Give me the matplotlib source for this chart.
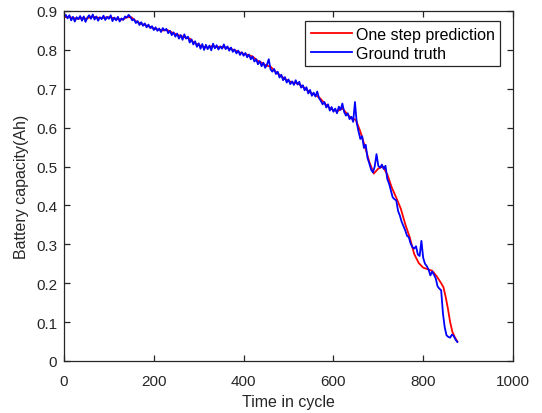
import matplotlib
matplotlib.use("Agg")
import matplotlib.pyplot as plt

plt.rcParams['font.family'] = ['Liberation Sans', 'DejaVu Sans']

# Ground truth: cycles 0..876 step 4
truth_cycles = list(range(0, 880, 4))
truth_values = [
    0.884, 0.890, 0.881, 0.889, 0.876, 0.885, 0.873, 0.884, 0.879, 0.887,
    0.875, 0.886, 0.872, 0.883, 0.889, 0.880, 0.891, 0.878, 0.886, 0.875,
    0.884, 0.879, 0.888, 0.877, 0.885, 0.880, 0.889, 0.874, 0.883, 0.876,
    0.885, 0.873, 0.881, 0.877, 0.886, 0.883, 0.890, 0.884, 0.876, 0.879,
    0.869, 0.874, 0.864, 0.871, 0.862, 0.868, 0.858, 0.865, 0.856, 0.861,
    0.851, 0.858, 0.849, 0.855, 0.846, 0.856, 0.850, 0.854, 0.843, 0.849,
    0.838, 0.845, 0.834, 0.842, 0.829, 0.838, 0.826, 0.840, 0.829, 0.834,
    0.819, 0.827, 0.814, 0.822, 0.808, 0.817, 0.803, 0.815, 0.800, 0.813,
    0.802, 0.811, 0.799, 0.816, 0.804, 0.812, 0.801, 0.809, 0.803, 0.814,
    0.802, 0.809, 0.798, 0.806, 0.795, 0.801, 0.791, 0.798, 0.787, 0.794,
    0.785, 0.792, 0.781, 0.788, 0.776, 0.783, 0.770, 0.776, 0.763, 0.771,
    0.758, 0.767, 0.754, 0.762, 0.776, 0.750, 0.744, 0.751, 0.738, 0.744,
    0.729, 0.736, 0.722, 0.730, 0.716, 0.724, 0.712, 0.719, 0.710, 0.722,
    0.711, 0.718, 0.703, 0.709, 0.696, 0.704, 0.688, 0.697, 0.682, 0.690,
    0.680, 0.693, 0.676, 0.669, 0.660, 0.666, 0.652, 0.660, 0.644, 0.653,
    0.641, 0.649, 0.637, 0.654, 0.646, 0.662, 0.640, 0.631, 0.637, 0.622,
    0.628, 0.615, 0.666, 0.612, 0.590, 0.571, 0.578, 0.548, 0.556, 0.522,
    0.508, 0.492, 0.485, 0.500, 0.532, 0.502, 0.497, 0.505, 0.494, 0.502,
    0.468, 0.456, 0.438, 0.421, 0.416, 0.413, 0.386, 0.374, 0.358, 0.347,
    0.336, 0.322, 0.318, 0.302, 0.293, 0.289, 0.295, 0.274, 0.270, 0.309,
    0.265, 0.250, 0.244, 0.235, 0.220, 0.230, 0.222, 0.212, 0.192, 0.186,
    0.182, 0.122, 0.086, 0.066, 0.062, 0.060, 0.068, 0.064, 0.055, 0.049,
]

# One step prediction
pred_cycles = list(range(0, 850, 10)) + [845, 850, 855, 860, 865, 870, 876]
pred_cycles = sorted(set(pred_cycles))
pred_values = [
    0.884, 0.885, 0.882, 0.880, 0.882, 0.880, 0.885, 0.884, 0.882, 0.883,
    0.884, 0.882, 0.879, 0.878, 0.884, 0.884, 0.874, 0.868, 0.864, 0.860,
    0.855, 0.852, 0.850, 0.851, 0.845, 0.840, 0.836, 0.832, 0.829, 0.818,
    0.813, 0.808, 0.806, 0.810, 0.807, 0.808, 0.806, 0.803, 0.799, 0.794,
    0.790, 0.787, 0.783, 0.773, 0.767, 0.760, 0.757, 0.745, 0.736, 0.727,
    0.720, 0.716, 0.714, 0.707, 0.698, 0.689, 0.684, 0.676, 0.663, 0.652,
    0.645, 0.643, 0.650, 0.636, 0.624, 0.620, 0.590, 0.552, 0.512, 0.482,
    0.495, 0.500, 0.480, 0.446, 0.420, 0.392, 0.352, 0.318, 0.275, 0.252,
    0.240, 0.236, 0.232, 0.218, 0.200,
    0.190, 0.165, 0.135, 0.100, 0.075, 0.062, 0.050,
]

xticks = [0, 200, 400, 600, 800, 1000]
yticks = [0, 0.1, 0.2, 0.3, 0.4, 0.5, 0.6, 0.7, 0.8, 0.9]
ytick_labels = ['0', '0.1', '0.2', '0.3', '0.4', '0.5', '0.6', '0.7', '0.8', '0.9']

fig = plt.figure(figsize=(5.42, 4.14), dpi=100)
ax = fig.add_axes([64/542, (414-362)/414, 449/542, 350/414])

ax.plot(pred_cycles, pred_values, color=(1, 0, 0), lw=1.3, label='One step prediction')
ax.plot(truth_cycles, truth_values, color=(0, 0, 1), lw=1.3, label='Ground truth')

ax.set_xlim(0, 1000)
ax.set_ylim(0, 0.9)
ax.set_xticks(xticks)
ax.set_yticks(yticks)
ax.set_yticklabels(ytick_labels)

dark = '#262626'
for s in ax.spines.values():
    s.set_color(dark)
    s.set_linewidth(0.9)
ax.tick_params(direction='in', length=4, width=0.9, colors=dark, labelsize=11,
               top=True, right=True)
ax.tick_params(axis='x', pad=9.5)
ax.tick_params(axis='y', pad=5)

ax.set_xlabel('Time in cycle', fontsize=11.5, color=dark, labelpad=4)
ax.set_ylabel('Battery capacity(Ah)', fontsize=11.5, color=dark, labelpad=5)

leg = ax.legend(loc='upper right', bbox_to_anchor=(0.971, 0.971), borderaxespad=0,
                fontsize=11.5, frameon=True, fancybox=False, handlelength=2.6,
                handletextpad=0.2, borderpad=0.35, labelspacing=0.25)
leg.get_frame().set_edgecolor(dark)
leg.get_frame().set_linewidth(0.9)
leg.get_frame().set_alpha(1)

fig.savefig('out.png', dpi=100)
